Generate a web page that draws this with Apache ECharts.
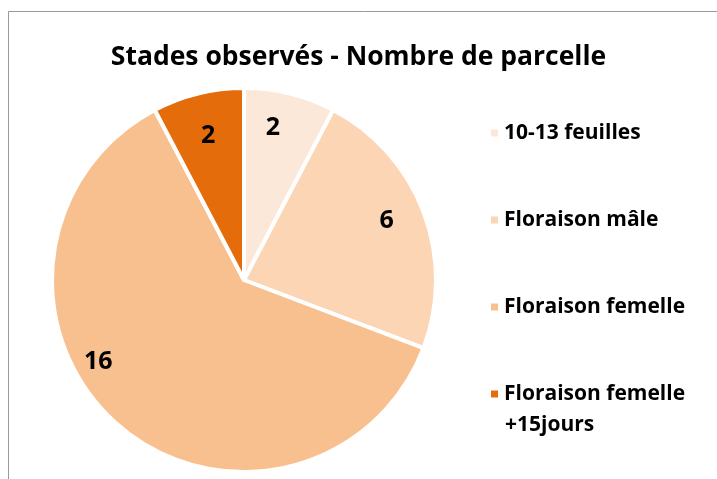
<!DOCTYPE html>
<html>
<head>
<meta charset="utf-8">
<script src="https://cdn.jsdelivr.net/npm/echarts@6/dist/echarts.min.js"></script>
<style>
  html, body { margin: 0; padding: 0; background: #fff; }
  #chart { width: 717px; height: 479px; }
</style>
</head>
<body>
<div id="chart"></div>
<script>
// Données du graphique
const stades = ['10-13 feuilles', 'Floraison mâle', 'Floraison femelle', 'Floraison femelle +15jours'];
const parcelles = [2, 6, 16, 2];
const couleurs = ['#FCE8D9', '#FBD5B4', '#F9C08F', '#E46C0A'];

const FONT = '"Open Sans", "Noto Sans", sans-serif';

const chart = echarts.init(document.getElementById('chart'));

// décalage des étiquettes (placement "au mieux" d'Excel)
const decalages = [[-9, 1], [-5, -3], [-41, -36], [2, 9]];

const pieData = stades.map((name, i) => ({
    name: name,
    value: parcelles[i],
    itemStyle: { color: couleurs[i] }
}));

chart.setOption({
    backgroundColor: '#ffffff',
    animation: false,
    title: {
        text: 'Stades observés - Nombre de parcelle',
        left: 'center',
        top: 39,
        textStyle: { fontFamily: FONT, fontSize: 26.5, fontWeight: 'bold', color: '#000' }
    },
    legend: {
        orient: 'vertical',
        left: 484,
        top: 113,
        itemWidth: 9,
        itemHeight: 9,
        itemGap: 57,
        icon: 'rect',
        data: stades,
        formatter: name => name.replace(' +15jours', ''),
        textStyle: { fontFamily: FONT, fontSize: 21, fontWeight: 'bold', color: '#000', lineHeight: 30 }
    },
    graphic: [{
        type: 'rect',
        shape: { x: 8.5, y: 11.5, width: 760, height: 520 },
        style: { fill: 'none', stroke: '#9a9a9a', lineWidth: 1 },
        silent: true
    }, {
        type: 'text',
        left: 505,
        top: 415,
        style: { text: '+15jours', font: 'bold 21px ' + FONT, fill: '#000' },
        silent: true
    }],
    series: [{
        name: 'Parcelles',
        type: 'pie',
        center: [244, 280],
        radius: [0, 192],
        startAngle: 90,
        clockwise: true,
        itemStyle: { borderColor: '#ffffff', borderWidth: 4 },
        label: { show: false },
        labelLine: { show: false },
        emphasis: { disabled: true },
        data: pieData
    }, {
        // série transparente pour placer les étiquettes vers l'extérieur
        name: 'Etiquettes',
        type: 'pie',
        center: [244, 280],
        radius: [118, 192],
        startAngle: 90,
        clockwise: true,
        silent: true,
        itemStyle: { color: 'transparent', borderWidth: 0 },
        label: {
            show: true,
            position: 'inside',
            formatter: '{c}',
            fontFamily: FONT,
            fontSize: 25,
            fontWeight: 'bold',
            color: '#000'
        },
        labelLine: { show: false },
        data: stades.map((name, i) => ({
            name: name,
            value: parcelles[i],
            label: { offset: decalages[i] }
        }))
    }]
});

window.addEventListener('resize', () => chart.resize());
</script>
</body>
</html>
